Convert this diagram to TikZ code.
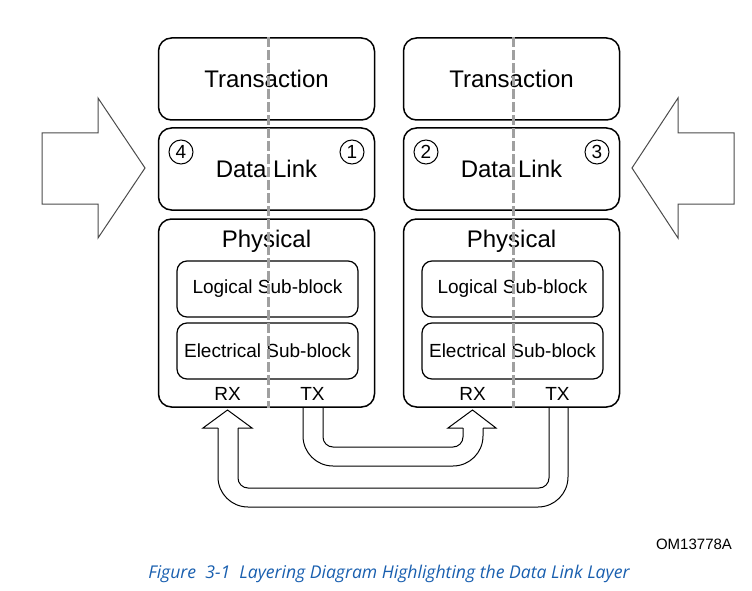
\documentclass[tikz,border=0pt]{standalone}
\usepackage{fontspec}
\setmainfont{Liberation Sans}
\newfontfamily\capfont{Open Sans}
\usetikzlibrary{calc}
\definecolor{capblue}{RGB}{25,95,175}
\definecolor{sepgray}{RGB}{160,160,160}
\definecolor{arrowgray}{RGB}{75,75,75}

\begin{document}
\begin{tikzpicture}[x=1pt, y=-1pt,
	layer/.style={draw, line width=1.5pt, rounded corners=13pt, minimum width=216pt, minimum height=82pt, font=\fontsize{24}{24}\selectfont},
	subblock/.style={draw, line width=1.2pt, rounded corners=10pt, minimum width=181pt, minimum height=56pt, font=\fontsize{19}{19}\selectfont},
	num/.style={draw, circle, line width=1pt, inner sep=0pt, minimum size=24pt, font=\fontsize{19}{19}\selectfont},
	port/.style={font=\fontsize{19}{19}\selectfont},
	sep/.style={draw=sepgray, line width=3pt, dash pattern=on 10pt off 3pt},
	pipe/.style={draw=black, line width=1pt},
	bigarrow/.style={draw=arrowgray, line width=1pt}]
		\useasboundingbox (0,0) rectangle (752,591);
		%layer stacks
		\foreach \x/\c/\l/\r in {266.5/A/4/1, 511.5/B/2/3}{
			\node[layer] (trans\c) at (\x, 79) {Transaction};
			\node[layer] (link\c) at (\x, 169) {Data Link};
			\node[layer, minimum height=188pt] (phys\c) at (\x, 313) {};
			\node[font=\fontsize{24}{24}\selectfont] (physname\c) at (\x, 241) {Physical};
			\node[subblock] (logic\c) at (\x+1, 289) {Logical Sub-block};
			\node[subblock] (elec\c) at (\x+1, 351) {Electrical Sub-block};
			\node[port] (rx\c) at (\x-39, 394) {RX};
			\node[port] (tx\c) at (\x+46, 394) {TX};
			\node[num] (left\c) at (\x-85.5, 152) {\l};
			\node[num] (right\c) at (\x+85.5, 152) {\r};
			\draw[sep] (trans\c.north -| \x+1.5, 0) -- (phys\c.south -| \x+1.5, 0);
		}
		%side arrows
		\draw[bigarrow] (42, 133) -- (98, 133) -- (98, 98) -- (145, 168) -- (98, 238) -- (98, 204) -- (42, 204) -- cycle;
		\draw[bigarrow] (734, 133) -- (678, 133) -- (678, 98) -- (632, 168) -- (678, 238) -- (678, 204) -- (734, 204) -- cycle;
		%TX A to RX B
		\coordinate (tipB) at (rxB |- 0, 410);
		\draw[pipe, rounded corners=30pt] (303, 407) -- (303, 466) -- (483, 466) -- (483, 428);
		\draw[pipe, rounded corners=10pt] (323, 407) -- (323, 447) -- (463, 447) -- (463, 428);
		\draw[pipe] (463, 428) -- (448, 428) -- (tipB) -- (496, 428) -- (483, 428);
		%TX B to RX A
		\coordinate (tipA) at (rxA |- 0, 410);
		\draw[pipe, rounded corners=30pt] (568, 407) -- (568, 507) -- (218, 507) -- (218, 428);
		\draw[pipe, rounded corners=10pt] (549, 407) -- (549, 488) -- (238, 488) -- (238, 428);
		\draw[pipe] (218, 428) -- (203, 428) -- (tipA) -- (252, 428) -- (238, 428);
		%caption
		\node[font=\fontsize{15}{15}\selectfont] (figid) at (694, 544) {OM13778A};
		\node[font=\capfont\itshape\fontsize{17.6}{17.6}\selectfont, text=capblue] (caption) at (389, 574) {Figure\ \ 3-1\ \ Layering Diagram Highlighting the Data Link Layer};
\end{tikzpicture}
\end{document}
